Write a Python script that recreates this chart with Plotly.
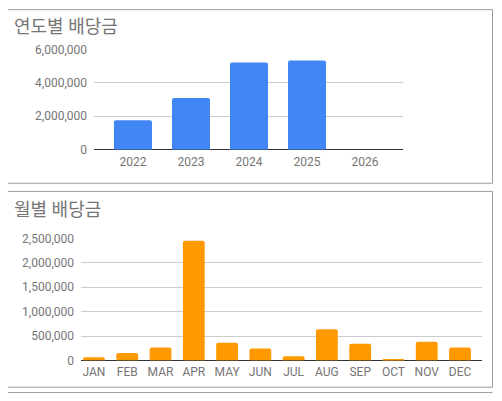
import plotly.graph_objects as go

# the page puts the plot 8px in from the top and left, so the figure is
# sized to what is left of the 502x401 window and positions are shifted
PAGE_OFF = 8
W, H = 502 - PAGE_OFF, 401 - PAGE_OFF

years = ["2022", "2023", "2024", "2025", "2026"]
yearly_dividend = [1760000, 3090000, 5230000, 5350000, 0]

months = ["JAN", "FEB", "MAR", "APR", "MAY", "JUN",
          "JUL", "AUG", "SEP", "OCT", "NOV", "DEC"]
monthly_dividend = [66000, 151000, 263000, 2450000, 362000, 244000,
                    85000, 638000, 342000, 26000, 382000, 263000]

yearly_ticks = [0, 2000000, 4000000, 6000000]
monthly_ticks = [0, 500000, 1000000, 1500000, 2000000, 2500000]

BLUE = "#4285F4"
ORANGE = "#FF9900"
GREY_TXT = "#757575"
FONT = "Roboto, 'Noto Sans CJK KR', sans-serif"


def px_x(v):
    return (v - PAGE_OFF) / W


def px_y(v):
    return 1 - (v - PAGE_OFF) / H


fig = go.Figure()
fig.add_trace(go.Bar(x=years, y=yearly_dividend, marker_color=BLUE,
                     marker_line_width=0, marker_cornerradius=2,
                     xaxis="x", yaxis="y"))
fig.add_trace(go.Bar(x=months, y=monthly_dividend, marker_color=ORANGE,
                     marker_line_width=0, marker_cornerradius=2,
                     xaxis="x2", yaxis="y2"))

tick_font = dict(family=FONT, size=12, color=GREY_TXT)
common_x = dict(type="category", showgrid=False, showline=False, ticks="",
                tickfont=tick_font, ticklabelstandoff=3, fixedrange=True)
common_y = dict(showgrid=True, gridcolor="#cccccc", gridwidth=1, zeroline=True,
                zerolinecolor="#333333", zerolinewidth=1, showline=False,
                tickformat=",d", tickfont=tick_font, ticklabelstandoff=6,
                fixedrange=True)

fig.update_layout(
    width=W, height=H,
    margin=dict(l=0, r=0, t=0, b=0),
    paper_bgcolor="white", plot_bgcolor="white",
    showlegend=False, bargap=0.345,
    xaxis=dict(common_x, domain=[px_x(94), px_x(403)], range=[-0.672, 4.655],
               anchor="y"),
    yaxis=dict(common_y, domain=[px_y(148.3), px_y(44.4)], range=[0, 6020000],
               tickvals=yearly_ticks, anchor="x"),
    xaxis2=dict(common_x, domain=[px_x(81), px_x(482.3)], range=[-0.39, 11.67],
                anchor="y2"),
    yaxis2=dict(common_y, domain=[px_y(366.3), px_y(239.7)], range=[0, 2506000],
                tickvals=monthly_ticks, anchor="x2"),
)

# panel borders
border = dict(color="#9e9e9e", width=1)
fig.add_shape(type="rect", xref="paper", yref="paper",
              x0=px_x(3.5), x1=px_x(492.5), y0=px_y(183), y1=px_y(3.5), line=border)
fig.add_shape(type="rect", xref="paper", yref="paper",
              x0=px_x(3.5), x1=px_x(492.5), y0=px_y(394), y1=px_y(191.5), line=border)
fig.add_shape(type="line", xref="paper", yref="paper",
              x0=px_x(3.5), x1=px_x(492.5), y0=px_y(399.5), y1=px_y(399.5), line=border)

title_font = dict(family=FONT, size=18, color=GREY_TXT)
fig.add_annotation(text="연도별 배당금", xref="paper", yref="paper",
                   x=px_x(12), y=px_y(21), xanchor="left", yanchor="middle",
                   showarrow=False, font=title_font)
fig.add_annotation(text="월별 배당금", xref="paper", yref="paper",
                   x=px_x(12), y=px_y(210), xanchor="left", yanchor="middle",
                   showarrow=False, font=title_font)

fig.write_html("out.html")
